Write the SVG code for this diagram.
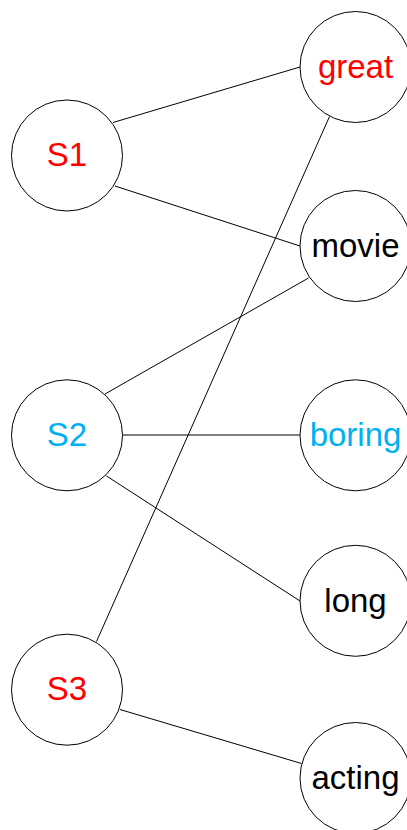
<svg xmlns="http://www.w3.org/2000/svg" width="407" height="830" viewBox="0 0 407 830">
<style>
.n{fill:#fff;stroke:#000;stroke-width:1}
.t{font-family:"Liberation Sans",Arial,sans-serif;font-size:33px;text-anchor:middle}
.red{fill:#FF0000}.blue{fill:#00B0F0}.blk{fill:#000}
#edges line{stroke:#000;stroke-width:1}
</style>
<rect width="407" height="830" fill="#fff"/>
<g id="edges">
<line x1="113" y1="122.5" x2="300" y2="67"/>
<line x1="115" y1="186" x2="300" y2="246"/>
<line x1="105" y1="394" x2="308.5" y2="278"/>
<line x1="122.5" y1="435" x2="300" y2="435"/>
<line x1="106.5" y1="476" x2="300" y2="601"/>
<line x1="96.5" y1="641.5" x2="329.5" y2="116.5"/>
<line x1="120" y1="709.5" x2="301.5" y2="763.5"/>
</g>
<g id="S1"><circle class="n" cx="67" cy="155.5" r="55.5"/><text class="t red" x="67" y="166">S1</text></g>
<g id="S2"><circle class="n" cx="67" cy="435.3" r="55.5"/><text class="t blue" x="67" y="446">S2</text></g>
<g id="S3"><circle class="n" cx="67" cy="689.7" r="55.5"/><text class="t red" x="67" y="700">S3</text></g>
<g id="great"><circle class="n" cx="355.5" cy="67" r="55.5"/><text class="t red" x="355.5" y="78">great</text></g>
<g id="movie"><circle class="n" cx="355.5" cy="246" r="55.5"/><text class="t blk" x="355.5" y="257">movie</text></g>
<g id="boring"><circle class="n" cx="355.5" cy="435.3" r="55.5"/><text class="t blue" x="355.5" y="446">boring</text></g>
<g id="long"><circle class="n" cx="355.5" cy="600.8" r="55.5"/><text class="t blk" x="355.5" y="612">long</text></g>
<g id="acting"><circle class="n" cx="355.5" cy="778" r="55.5"/><text class="t blk" x="355.5" y="789">acting</text></g>
</svg>
